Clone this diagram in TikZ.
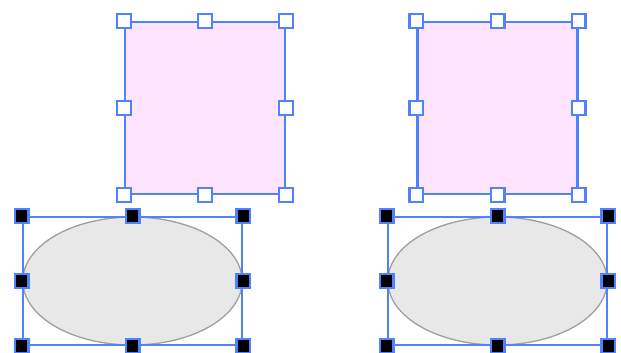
\documentclass[tikz,border=0pt]{standalone}
\usepackage{tikz}
\usetikzlibrary{shapes.geometric}
\definecolor{rosita}{RGB}{255,228,255}
\definecolor{azulsel}{RGB}{80,130,255}
\definecolor{grisito}{RGB}{232,232,232}
\definecolor{bordegris}{RGB}{160,160,160}
\tikzset{x=0.03cm, y=-0.03cm,
	cuadro/.style={draw=bordegris, fill=rosita, line width=0.04cm, inner sep=0pt, minimum width=4.8cm, minimum height=5.16cm},
	elipse/.style={ellipse, draw=bordegris, fill=grisito, line width=0.04cm, inner sep=0pt, minimum width=6.58cm, minimum height=3.84cm},
	marco/.style={draw=azulsel, line width=0.065cm, inner sep=0pt},
	asa/.style={draw=azulsel, line width=0.07cm, inner sep=0pt, minimum size=0.41cm},
	asablanca/.style={asa, fill=white},
	asanegra/.style={asa, fill=black}}

\begin{document}
\begin{tikzpicture}
	\useasboundingbox (0,0) rectangle (621,352);

	% cuadros rosas
	\node[cuadro] (cuadroIzq) at (205,108) {};
	\node[cuadro] (cuadroDer) at (497.5,108) {};
	\node[marco, minimum width=4.8cm, minimum height=5.16cm] (marcoCuadroIzq) at (cuadroIzq) {};
	\node[marco, minimum width=4.8cm, minimum height=5.16cm] (marcoCuadroDer) at (cuadroDer) {};

	% elipses grises
	\node[elipse] (elipseIzq) at (132.5,281) {};
	\node[elipse] (elipseDer) at (497.5,281) {};
	\node[marco, minimum width=6.58cm, minimum height=3.84cm] (marcoElipseIzq) at (elipseIzq) {};
	\node[marco, minimum width=6.58cm, minimum height=3.84cm] (marcoElipseDer) at (elipseDer) {};

	% asas
	\foreach \m in {marcoCuadroIzq, marcoCuadroDer}
		\foreach \a in {north west, north, north east, east, south east, south, south west, west}
			\node[asablanca] at (\m.\a) {};
	\foreach \m in {marcoElipseIzq, marcoElipseDer}
		\foreach \a in {north west, north, north east, east, south east, south, south west, west}
			\node[asanegra] at (\m.\a) {};

\end{tikzpicture}
\end{document}
